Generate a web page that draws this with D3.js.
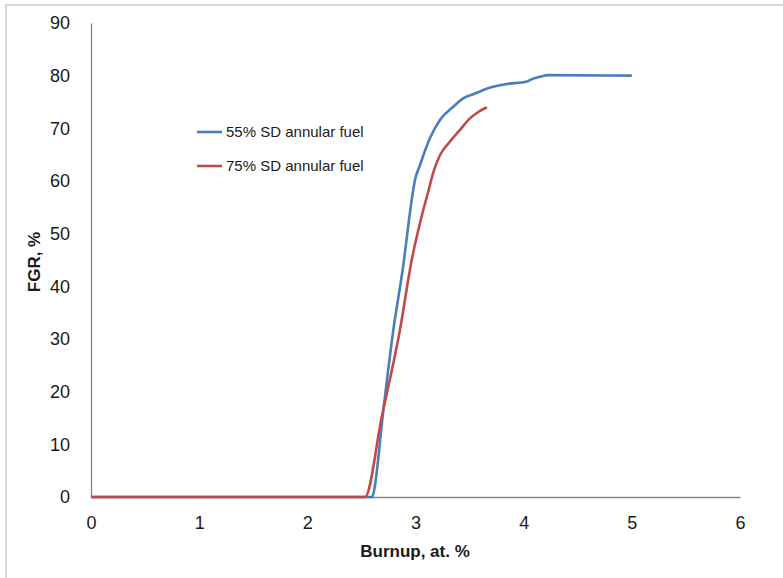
<!DOCTYPE html>
<html>
<head>
<meta charset="utf-8">
<script src="https://cdn.jsdelivr.net/npm/d3@7"></script>
<style>
  body { margin: 0; background: #fff; }
  svg { display: block; font-family: "Liberation Sans", Arial, sans-serif; }
</style>
</head>
<body>
<svg id="chart" width="783" height="578"></svg>
<script>
'use strict';

// series: burnup (at. %) vs fission gas release (%)
const sd55Burnup = [0, 2.60, 2.615, 2.70, 2.795, 2.885, 2.965, 2.995, 3.041, 3.133, 3.226, 3.349, 3.441, 3.55, 3.67, 3.84, 4.03, 4.06, 4.15, 4.23, 5.0];
const sd55Fgr    = [0, 0,    1,     16,   31.7,  43.7,  56.4,  60.2,  63.0,  68.1,  71.6,  74.1,  75.7,  76.6, 77.6, 78.4, 78.9, 79.2, 79.8, 80.1, 80.0];

const sd75Burnup = [0, 2.533, 2.688, 2.856, 2.965, 3.072, 3.118, 3.164, 3.226, 3.319, 3.411, 3.503, 3.58, 3.66];
const sd75Fgr    = [0, 0,     15.2,  31.7,  45.0,  54.5,  58.0,  61.6,  64.9,  67.5,  69.7,  71.9,  73.1, 74.0];

const seriesNames = ['55% SD annular fuel', '75% SD annular fuel'];
const seriesColors = ['#4a7ebb', '#be4b48'];

const xTicks = [0, 1, 2, 3, 4, 5, 6];
const yTicks = [0, 10, 20, 30, 40, 50, 60, 70, 80, 90];

const width = 783, height = 578;
const margin = { left: 91, right: 43, top: 23, bottom: 81 };

const svg = d3.select('#chart');

/* light frame of the chart area (only left and top edges show) */
svg.append('rect')
  .attr('x', 6).attr('y', 5)
  .attr('width', width + 10).attr('height', height + 10)
  .attr('fill', 'none')
  .attr('stroke', '#d9d9d9')
  .attr('stroke-width', 2);

const X = d3.scaleLinear().domain([0, 6]).range([margin.left, width - margin.right]);
const Y = d3.scaleLinear().domain([0, 90]).range([height - margin.bottom, margin.top]);

/* axes, no tick marks */
const xAxis = svg.append('g')
  .attr('transform', 'translate(0,' + Y(0) + ')')
  .call(d3.axisBottom(X).tickValues(xTicks).tickFormat(d3.format('d')).tickSize(0).tickPadding(19));
const yAxis = svg.append('g')
  .attr('transform', 'translate(' + X(0) + ',0)')
  .call(d3.axisLeft(Y).tickValues(yTicks).tickSize(0).tickPadding(21));

[xAxis, yAxis].forEach(a => {
  a.select('.domain').attr('stroke', '#868686').attr('stroke-width', 1.3);
  a.selectAll('text')
    .attr('fill', '#1a1a1a')
    .style('font-size', '18px')
    .style('font-family', '"Liberation Sans", Arial, sans-serif');
});

/* axis titles */
svg.append('text')
  .attr('x', 415).attr('y', 557)
  .attr('text-anchor', 'middle')
  .attr('font-weight', 'bold')
  .attr('font-size', 17)
  .attr('fill', '#1a1a1a')
  .text('Burnup, at. %');

svg.append('text')
  .attr('transform', 'translate(40,262) rotate(-90)')
  .attr('text-anchor', 'middle')
  .attr('font-weight', 'bold')
  .attr('font-size', 17)
  .attr('fill', '#1a1a1a')
  .text('FGR, %');

/* series lines */
const line = d3.line()
  .x(d => X(d[0]))
  .y(d => Y(d[1]))
  .curve(d3.curveMonotoneX);
const series = [
  d3.zip(sd55Burnup, sd55Fgr),
  d3.zip(sd75Burnup, sd75Fgr)
];

series.forEach((pts, i) => {
  svg.append('path')
    .datum(pts)
    .attr('d', line)
    .attr('fill', 'none')
    .attr('stroke', seriesColors[i])
    .attr('stroke-width', 2.6)
    .attr('stroke-linejoin', 'round');
});

/* legend */
const legendY = [132, 166];
seriesNames.forEach((name, i) => {
  svg.append('line')
    .attr('x1', 197).attr('x2', 222)
    .attr('y1', legendY[i]).attr('y2', legendY[i])
    .attr('stroke', seriesColors[i])
    .attr('stroke-width', 2.6);
  svg.append('text')
    .attr('x', 226).attr('y', legendY[i])
    .attr('dy', '0.35em')
    .attr('font-size', 15)
    .attr('fill', '#1a1a1a')
    .text(name);
});
</script>
</body>
</html>
